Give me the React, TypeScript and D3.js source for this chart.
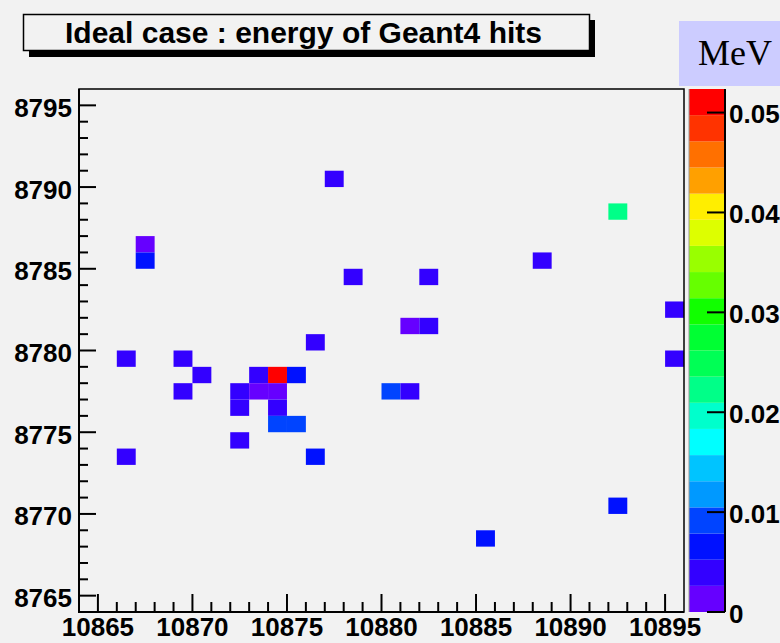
import React from "react";
import * as d3 from "d3";

// ---- data ----
const xDomain = [10864, 10896];
const yDomain = [8764, 8796];
const zMax = 0.05236;
const xTickLabels = [10865, 10870, 10875, 10880, 10885, 10890, 10895];
const yTickLabels = [8765, 8770, 8775, 8780, 8785, 8790, 8795];
const zTickLabels = [0, 0.01, 0.02, 0.03, 0.04, 0.05];
const palette = [
  "#6600ff", "#3300ff", "#0011ff", "#0044ff", "#0099ff",
  "#00c4ff", "#00ffff", "#00ffcc", "#00ff88", "#00ff55",
  "#00ff33", "#11ff00", "#66ff00", "#99ff00", "#ddff00",
  "#ffee00", "#ffa000", "#ff7000", "#ff3300", "#ff0000",
];
const cellX = [10877, 10867, 10867, 10878, 10882, 10888, 10892, 10895, 10881, 10882, 10876,
  10866, 10869, 10895, 10870, 10873, 10874, 10875, 10869, 10872, 10873, 10874, 10880, 10881,
  10872, 10874, 10874, 10875, 10872, 10866, 10876, 10892, 10885];
const cellY = [8790, 8786, 8785, 8784, 8784, 8785, 8788, 8782, 8781, 8781, 8780,
  8779, 8779, 8779, 8778, 8778, 8778, 8778, 8777, 8777, 8777, 8777, 8777, 8777,
  8776, 8776, 8775, 8775, 8774, 8773, 8773, 8770, 8768];
const cellE = [0.004, 0.0015, 0.0065, 0.004, 0.004, 0.004, 0.022, 0.004, 0.0015, 0.004, 0.004,
  0.004, 0.004, 0.004, 0.004, 0.004, 0.052, 0.0065, 0.004, 0.004, 0.0015, 0.0015, 0.009, 0.004,
  0.004, 0.004, 0.009, 0.009, 0.004, 0.004, 0.0065, 0.0065, 0.0065];

const W = 780, H = 643;
const BG = "#f2f2f2";
const FONT = "'Liberation Sans', Arial, Helvetica, sans-serif";

export default function App() {
  const left = 79, right = 684, top = 89, bottom = 612;
  const x = d3.scaleLinear().domain(xDomain).range([left, right]);
  const y = d3.scaleLinear().domain(yDomain).range([bottom, top]);
  const cbL = 689, cbR = 725;
  const z = d3.scaleLinear().domain([0, zMax]).range([bottom, top]);
  const color = d3.scaleQuantize<string>().domain([0, zMax]).range(palette);
  const bandEdges = d3.range(palette.length + 1).map((i) => (i * zMax) / palette.length);

  const xMinor = d3.range(xDomain[0] + 1, xDomain[1]);
  const yMinor = d3.range(yDomain[0] + 1, yDomain[1]);

  return (
    <svg width={W} height={H} style={{ position: "absolute", left: 0, top: 0, background: BG }}>
      <rect x={0} y={0} width={W} height={H} fill={BG} />
      {/* title box */}
      <rect x={29} y={20} width={566} height={37} fill="#000" />
      <rect x={23.5} y={14.5} width={566} height={36} fill={BG} stroke="#000" strokeWidth={1.5} />
      <text x={65} y={42.5} fontFamily={FONT} fontWeight="bold" fontSize={30} textLength={477}
        lengthAdjust="spacingAndGlyphs" fill="#000">Ideal case : energy of Geant4 hits</text>
      {/* MeV box */}
      <rect x={679} y={21} width={101} height={65} fill="#ccccff" />
      <text x={698} y={65} fontFamily="'Liberation Serif', 'Times New Roman', serif" fontSize={36} fill="#000">MeV</text>

      {/* cells */}
      {cellX.map((cx, i) => (
        <rect key={i} x={x(cx)} y={y(cellY[i] + 1)} width={x(cx + 1) - x(cx)}
          height={y(cellY[i]) - y(cellY[i] + 1)} fill={color(cellE[i])} />
      ))}

      {/* frame */}
      <rect x={left} y={top} width={right - left} height={bottom - top} fill="none" stroke="#000" strokeWidth={1.5} />
      <line x1={left} x2={left} y1={top} y2={bottom + 1} stroke="#000" strokeWidth={2} />
      <line x1={left - 1} x2={right} y1={bottom} y2={bottom} stroke="#000" strokeWidth={2} />

      {/* x ticks */}
      {xMinor.map((v) => {
        const major = xTickLabels.includes(v);
        return <line key={"xt" + v} x1={x(v)} x2={x(v)} y1={bottom} y2={bottom - (major ? 18 : 10)} stroke="#000" strokeWidth={2} />;
      })}
      {xTickLabels.map((v) => (
        <text key={"xl" + v} x={x(v)} y={636} textAnchor="middle" fontFamily={FONT} fontWeight="bold" fontSize={26} fill="#000">{v}</text>
      ))}
      {/* y ticks */}
      {yMinor.map((v) => {
        const major = yTickLabels.includes(v);
        return <line key={"yt" + v} x1={left} x2={left + (major ? 17 : 9)} y1={y(v)} y2={y(v)} stroke="#000" strokeWidth={2} />;
      })}
      {yTickLabels.map((v) => (
        <text key={"yl" + v} x={72} y={y(v) + 11.5} textAnchor="end" fontFamily={FONT} fontWeight="bold" fontSize={26} fill="#000">{v}</text>
      ))}

      {/* colour bar */}
      {palette.map((c, i) => (
        <rect key={"cb" + i} x={cbL} y={z(bandEdges[i + 1])} width={cbR - cbL} height={z(bandEdges[i]) - z(bandEdges[i + 1])} fill={c} />
      ))}
      <line x1={cbL} x2={cbL} y1={top} y2={bottom} stroke="#999" strokeWidth={1} />
      <line x1={cbR} x2={cbR} y1={top} y2={bottom} stroke="#000" strokeWidth={2} />
      {zTickLabels.map((v) => (
        <g key={"zt" + v}>
          <line x1={cbR - 18} x2={cbR} y1={z(v)} y2={z(v)} stroke="#000" strokeWidth={2} />
          <text x={729} y={z(v) + 10.5} fontFamily={FONT} fontWeight="bold" fontSize={26} fill="#000">{v === 0 ? "0" : d3.format(".2f")(v)}</text>
        </g>
      ))}
    </svg>
  );
}
